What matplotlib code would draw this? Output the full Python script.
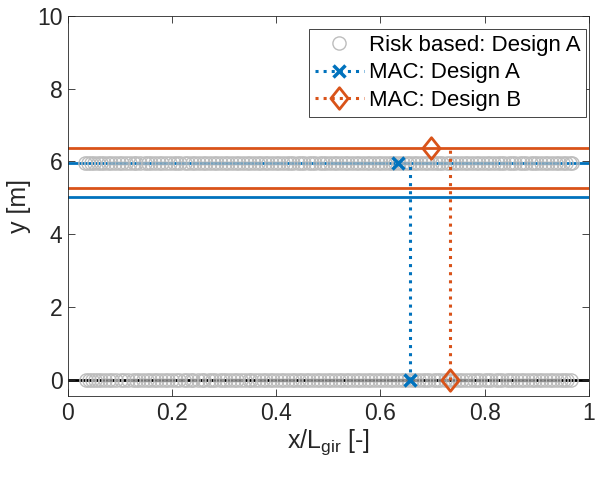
import matplotlib
matplotlib.use("Agg")
import matplotlib.pyplot as plt
from matplotlib.lines import Line2D
from matplotlib.path import Path

plt.rcParams['font.family'] = ['Liberation Sans', 'DejaVu Sans']
plt.rcParams['mathtext.fontset'] = 'custom'
plt.rcParams['mathtext.rm'] = 'Liberation Sans'

# Risk based design A: x positions of the two rows of points
risk_x_bottom = [0.035,0.040,0.046,0.051,0.058,0.063,0.071,0.078,0.084,0.093,0.101,0.108,0.115,0.124,0.130,0.137,
                 0.145,0.152,0.158,0.166,0.171,0.179,0.187,0.193,0.200,0.208,0.214,0.222,0.229,0.236,0.241,0.249,
                 0.257,0.262,0.270,0.276,0.283,0.291,0.298,0.304,0.311,0.318,0.324,0.333,0.339,0.347,0.352,0.360,
                 0.366,0.374,0.381,0.388,0.394,0.401,0.409,0.415,0.422,0.430,0.436,0.443,0.450,0.457,0.463,0.471,
                 0.478,0.484,0.492,0.499,0.505,0.512,0.520,0.527,0.533,0.540,0.548,0.555,0.561,0.569,0.576,0.582,
                 0.590,0.597,0.603,0.611,0.618,0.624,0.632,0.639,0.645,0.653,0.660,0.667,0.673,0.681,0.688,0.694,
                 0.702,0.709,0.715,0.723,0.730,0.737,0.744,0.750,0.757,0.765,0.771,0.779,0.786,0.792,0.800,0.806,
                 0.813,0.821,0.828,0.834,0.842,0.848,0.855,0.863,0.869,0.876,0.884,0.890,0.897,0.905,0.911,0.918,
                 0.926,0.932,0.939,0.946,0.952,0.959,0.965]
risk_y_bottom = 0.0
risk_x_top = [0.033,0.038,0.044,0.050,0.057,0.064,0.069,0.077,0.083,0.090,0.098,0.104,0.112,0.119,0.126,0.131,
              0.139,0.147,0.153,0.160,0.168,0.174,0.181,0.189,0.195,0.203,0.210,0.216,0.224,0.231,0.238,0.244,
              0.252,0.259,0.265,0.273,0.280,0.286,0.294,0.301,0.307,0.315,0.322,0.328,0.336,0.343,0.349,0.357,
              0.364,0.370,0.378,0.385,0.391,0.399,0.406,0.412,0.420,0.427,0.433,0.441,0.448,0.454,0.462,0.469,
              0.475,0.483,0.490,0.496,0.504,0.511,0.517,0.525,0.532,0.538,0.546,0.553,0.559,0.567,0.574,0.580,
              0.588,0.595,0.601,0.609,0.616,0.622,0.628,0.636,0.643,0.650,0.657,0.664,0.670,0.678,0.685,0.692,
              0.699,0.706,0.713,0.719,0.727,0.734,0.741,0.747,0.754,0.762,0.768,0.775,0.783,0.789,0.796,0.804,
              0.810,0.817,0.825,0.831,0.838,0.846,0.852,0.859,0.867,0.873,0.880,0.888,0.894,0.901,0.909,0.915,
              0.922,0.930,0.936,0.943,0.950,0.956,0.963,0.968]
risk_y_top = 5.95

# Horizontal reference lines
blue_lines_y = [5.95, 5.03]
orange_lines_y = [6.37, 5.27]
ground_y = 0.0

# MAC designs
macA_x = [0.634, 0.656]
macA_y = [5.95, 0.0]
macA_vline_x = 0.656
macA_vline_top = 5.9
macB_x = [0.697, 0.733]
macB_y = [6.37, 0.0]
macB_vline_x = 0.733
macB_vline_top = 6.37

blue = '#0072BD'
orange = '#D95319'
gray = '#BDBDBD'

diamond = Path([(0, 1), (0.8, 0), (0, -1), (-0.8, 0), (0, 1)],
               [Path.MOVETO, Path.LINETO, Path.LINETO, Path.LINETO, Path.CLOSEPOLY])

fig = plt.figure(figsize=(5.96, 4.82), dpi=100)
ax = fig.add_axes([0.114, 0.178, 0.874, 0.789])

ax.axhline(ground_y, color='black', lw=2, zorder=1)
for yv in blue_lines_y:
    ax.axhline(yv, color=blue, lw=2, zorder=1)
for yv in orange_lines_y:
    ax.axhline(yv, color=orange, lw=2, zorder=1)

ax.plot(risk_x_bottom, [risk_y_bottom]*len(risk_x_bottom), 'o', ms=9.5, mfc='none',
        mec=gray, mew=1.0, zorder=2)
ax.plot(risk_x_top, [risk_y_top]*len(risk_x_top), 'o', ms=9.5, mfc='none',
        mec=gray, mew=1.0, zorder=2)

ax.plot([macA_vline_x, macA_vline_x], [0, macA_vline_top], ':', color=blue, lw=2.2, zorder=3)
ax.plot(macA_x, macA_y, 'x', ls='none', color=blue, ms=8.5, mew=2.5, zorder=4)
ax.plot([macB_vline_x, macB_vline_x], [0, macB_vline_top], ':', color=orange, lw=2.2, zorder=3)
ax.plot(macB_x, macB_y, marker=diamond, ls='none', mfc='none', mec=orange, ms=15.5, mew=2, zorder=4)

ax.set_xlim(0, 1)
ax.set_ylim(-0.45, 10)
ax.set_xticks([0, 0.2, 0.4, 0.6, 0.8, 1])
ax.set_xticklabels(['0', '0.2', '0.4', '0.6', '0.8', '1'])
ax.set_yticks([0, 2, 4, 6, 8, 10])
ax.tick_params(direction='in', top=True, right=True, labelsize=16.5, length=5,
               width=0.6, colors='#262626', pad=4)
for s in ax.spines.values():
    s.set_color('#262626')
    s.set_linewidth(0.6)

ax.set_xlabel('$\\mathrm{x/L_{gir}}$ [-]', fontsize=18, color='#262626', labelpad=2)
ax.set_ylabel('y [m]', fontsize=18, color='#262626', labelpad=4)

handles = [
    Line2D([], [], ls='none', marker='o', ms=9.5, mfc='none', mec=gray, mew=1.0),
    Line2D([], [], ls=':', lw=2.2, color=blue, marker='x', ms=8.5, mew=2.5),
    Line2D([], [], ls=':', lw=2.2, color=orange, marker=diamond, ms=15.5, mfc='none', mew=2),
]
labels = ['Risk based: Design A', 'MAC: Design A', 'MAC: Design B']
leg = ax.legend(handles, labels, loc='upper right', bbox_to_anchor=(0.995, 0.965),
                fontsize=16, fancybox=False, edgecolor='#262626', framealpha=1,
                handlelength=2.2, borderpad=0.25, labelspacing=0.3, handletextpad=0.25,
                borderaxespad=0)
leg.get_frame().set_linewidth(0.6)

fig.savefig('out.png', dpi=100)
